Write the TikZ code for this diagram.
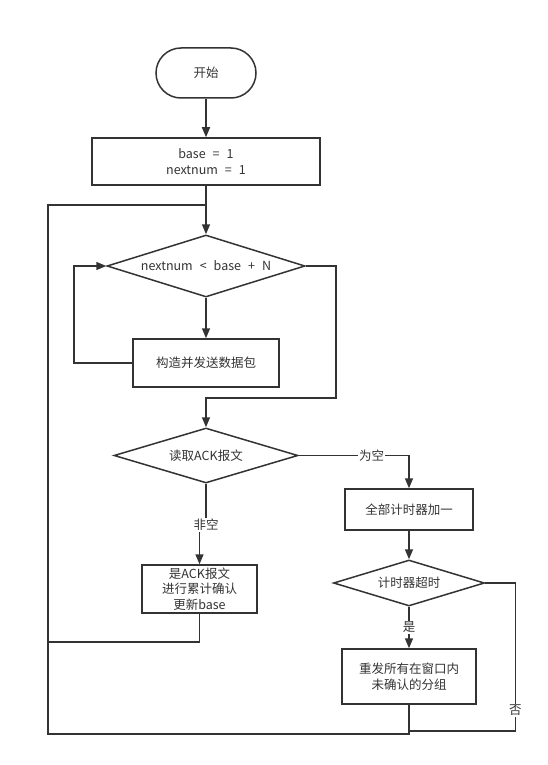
\documentclass[tikz,border=0pt]{standalone}
\usepackage{fontspec}
\setmainfont[WordSpace=2.5]{Noto Sans CJK SC}
\usepackage{tikz}
\usetikzlibrary{shapes.geometric, arrows.meta}
\definecolor{linegray}{HTML}{333333}
\tikzset{
  startstop/.style={
    rectangle, rounded corners=25pt, minimum width=100pt, minimum height=50pt,
    draw=linegray, line width=1.5pt, text=linegray, font=\fontsize{12.5}{15}\selectfont
  },
  process/.style={
    rectangle, inner sep=0pt, align=center,
    draw=linegray, line width=1.5pt, text=linegray, font=\fontsize{12.5}{15.5}\selectfont
  },
  decision/.style={
    diamond, inner sep=0pt,
    draw=linegray, line width=1.5pt, text=linegray, font=\fontsize{12.5}{15}\selectfont
  },
  arrow/.style={-{Triangle[length=10pt, width=8pt]}, line width=1.5pt, draw=linegray},
  line/.style={line width=1.5pt, draw=linegray},
  tag/.style={fill=white, inner sep=1pt, text=linegray, font=\fontsize{12.5}{15}\selectfont}
}

\begin{document}
\begin{tikzpicture}[x=1pt, y=-1pt]
  \useasboundingbox (0,0) rectangle (547,765);

  % Nodes
  \node[startstop] (start) at (206,73) {开始};
  \node[process, minimum width=228pt, minimum height=47pt] (init) at (206,161.5)
    {base = 1\\nextnum = 1};
  \node[decision, minimum width=198pt, minimum height=62pt, aspect=3.2] (check) at (206,266)
    {nextnum < base + N};
  \node[process, minimum width=146pt, minimum height=48pt] (send) at (206,363)
    {构造并发送数据包};
  \node[decision, minimum width=184pt, minimum height=55pt, aspect=3.35] (read) at (206,455.5)
    {读取ACK报文};
  \node[process, minimum width=115pt, minimum height=48pt] (ack) at (199.5,589)
    {是ACK报文\\进行累计确认\\更新base};
  \node[process, minimum width=128pt, minimum height=41pt] (inc) at (409,509.5)
    {全部计时器加一};
  \node[decision, minimum width=151pt, minimum height=46pt, aspect=3.3] (timeout) at (409,583)
    {计时器超时};
  \node[process, minimum width=134pt, minimum height=55pt] (resend) at (409,676.5)
    {重发所有在窗口内\\未确认的分组};

  % Helper points
  \coordinate (join) at (206,205);
  \coordinate (ackret) at (48,642);
  \coordinate (loopb) at (48,734);
  \coordinate (sendret) at (74,363);
  \coordinate (merge) at (206,398);
  \coordinate (noend) at (409,731);

  % Main flow
  \draw[arrow] (start) -- (init);
  \draw[arrow] (init) -- (check);
  \draw[arrow] (check) -- (send);
  \draw[arrow] (send.west) -- (sendret) |- (check.west);
  \draw[arrow] (check.east) -- ++(30,0) |- (merge) -- (read.north);

  % ACK branch
  \draw[arrow] (read.south) -- ++(0,41) node[tag] {非空} -| (ack.north);
  \draw[line] (ack.south) |- (ackret);
  \draw[arrow] (read.east) -| node[tag, pos=0.33] {为空} (inc.north);
  \draw[arrow] (inc) -- (timeout);
  \draw[arrow] (timeout.south) -- node[tag] {是} (resend.north);
  \draw[line] (timeout.east) -- ++(30,0) |- node[tag, pos=0.43] {否} (noend);

  % Back to the top
  \draw[line] (resend.south) |- (loopb) |- (join);

\end{tikzpicture}
\end{document}
